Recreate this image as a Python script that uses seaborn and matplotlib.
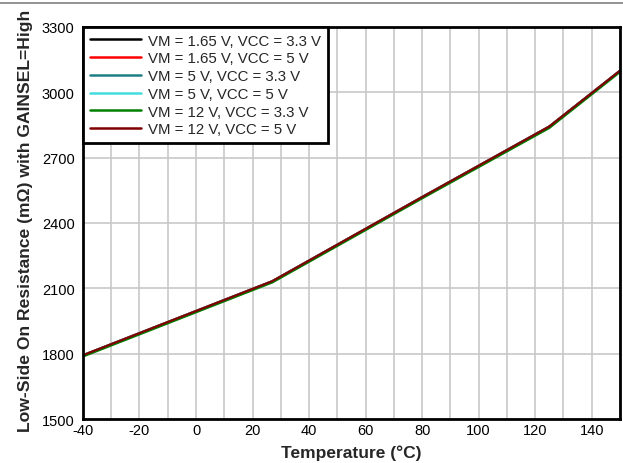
import numpy as np
import pandas as pd
import matplotlib.pyplot as plt
import seaborn as sns
from matplotlib.lines import Line2D
from matplotlib.ticker import MultipleLocator

# Data
temps = [-40, 0, 27, 80, 125, 150]
series = [
    "VM = 1.65 V, VCC = 3.3 V",
    "VM = 1.65 V, VCC = 5 V",
    "VM = 5 V, VCC = 3.3 V",
    "VM = 5 V, VCC = 5 V",
    "VM = 12 V, VCC = 3.3 V",
    "VM = 12 V, VCC = 5 V",
]
r_vm165_vcc33 = [1792, 1995, 2132, 2518, 2842, 3098]
r_vm165_vcc5 = [1793, 1996, 2133, 2519, 2843, 3099]
r_vm5_vcc33 = [1792, 1995, 2132, 2518, 2842, 3098]
r_vm5_vcc5 = [1793, 1996, 2133, 2519, 2843, 3099]
r_vm12_vcc33 = [1787, 1990, 2127, 2513, 2836, 3093]
r_vm12_vcc5 = [1793, 1996, 2133, 2519, 2843, 3099]
colors = ["#000000", "#ff0000", "#1f7f86", "#44dcdc", "#008000", "#800000"]

all_vals = [r_vm165_vcc33, r_vm165_vcc5, r_vm5_vcc33, r_vm5_vcc5, r_vm12_vcc33, r_vm12_vcc5]
rows = []
for name, vals in zip(series, all_vals):
    for t, v in zip(temps, vals):
        rows.append({"Temperature": t, "R": v, "Condition": name})
df = pd.DataFrame(rows)

sns.set_style("white")
plt.rcParams["font.family"] = ["Liberation Sans", "DejaVu Sans"]
plt.rcParams["axes.unicode_minus"] = False

fig = plt.figure(figsize=(6.23, 4.64), dpi=100)
ax = fig.add_axes([0.1332, 0.0948, 0.8618, 0.8449])

sns.lineplot(data=df, x="Temperature", y="R", hue="Condition", hue_order=series,
             palette=colors, linewidth=1.6, ax=ax)

ax.set_xlim(-40, 150)
ax.set_ylim(1500, 3300)
ax.set_xticks(np.arange(-40, 151, 20))
ax.set_yticks(np.arange(1500, 3301, 300))
ax.xaxis.set_minor_locator(MultipleLocator(10))
ax.grid(True, which="both", axis="x", color="#c8c8c8", linewidth=1.2)
ax.grid(True, which="major", axis="y", color="#c8c8c8", linewidth=1.2)
ax.set_axisbelow(True)
ax.tick_params(axis="both", which="both", length=0, labelsize=10.5, colors="black")
ax.tick_params(axis="x", pad=3)
ax.tick_params(axis="y", pad=6)

for s in ax.spines.values():
    s.set_color("black")
    s.set_linewidth(2)

ax.set_xlabel("Temperature (°C)", fontsize=12.5, fontweight="bold")
ax.set_ylabel("Low-Side On Resistance (mΩ) with GAINSEL=High", fontsize=12.6,
              fontweight="bold")
ax.xaxis.set_label_coords(0.5, -0.066)
ax.yaxis.set_label_coords(-0.093, 0.508)

leg = ax.legend(loc="upper left", bbox_to_anchor=(0, 1), fontsize=10.8, handlelength=3.4,
                borderaxespad=0, frameon=True, fancybox=False, labelspacing=0.25,
                borderpad=0.45, handletextpad=0.5)
leg.get_frame().set_edgecolor("black")
leg.get_frame().set_linewidth(2)
leg.get_frame().set_alpha(1)
for h in leg.get_lines():
    h.set_linewidth(1.8)

fig.add_artist(Line2D([0, 1], [1 - 4 / 464, 1 - 4 / 464], color="#808080", linewidth=1.2))

fig.savefig("out.png", dpi=100)
